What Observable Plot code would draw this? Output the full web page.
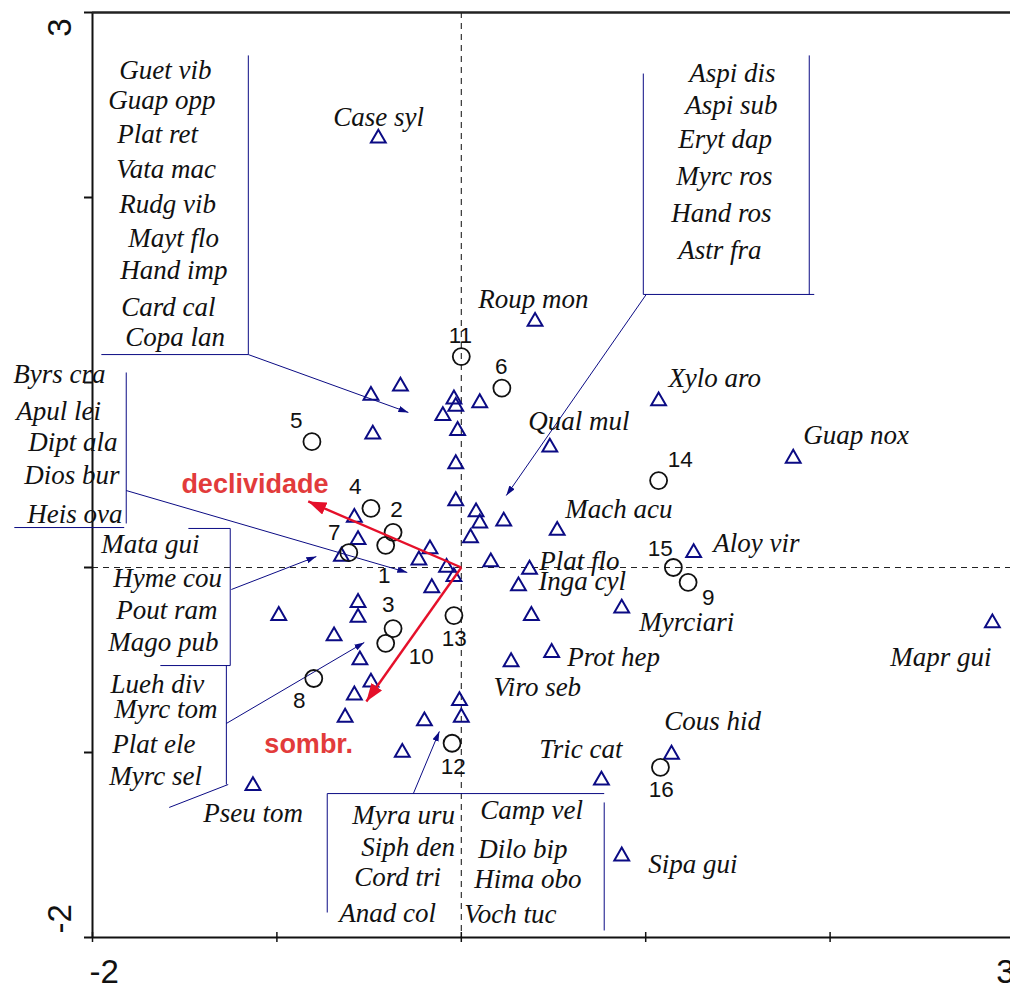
<!DOCTYPE html>
<html>
<head>
<meta charset="utf-8">
<script src="https://cdn.jsdelivr.net/npm/d3@7"></script>
<script src="https://cdn.jsdelivr.net/npm/@observablehq/plot@0.6"></script>
<style>
  html, body { margin: 0; padding: 0; background: #fff; }
  #chart svg { display: block; }
</style>
</head>
<body>
<div id="chart"></div>
<script>
// ---- Species scores (triangles) ----
const speciesX = [-0.45,0.40,-0.33,-0.49,-0.48,-0.04,-0.03,-0.10,0.10,-0.02,-0.03,-0.03,0.08,0.10,0.23,0.48,0.52,1.07,1.80,1.26,0.05,0.16,0.37,0.31,0.38,0.87,0.49,0.27,2.88,1.14,0.76,0.87,-1.13,-0.01,0.00,-0.20,-0.32,-0.58,-0.49,-0.55,-0.63,-0.58,-0.56,-0.65,-0.17,-0.23,-0.08,-0.04,-0.16,-0.56,-0.56,-0.99,-0.69];
const speciesY = [2.32,1.33,0.98,0.93,0.72,0.91,0.87,0.82,0.89,0.74,0.56,0.36,0.30,0.24,0.25,0.65,0.20,0.90,0.59,0.08,0.16,0.03,-0.01,-0.10,-0.26,-0.22,-0.46,-0.51,-0.30,-1.01,-1.15,-1.56,-1.18,-0.72,-0.81,-0.83,-1.00,-0.69,-0.62,-0.50,-0.81,0.27,0.15,0.06,0.10,0.04,0.00,-0.05,-0.11,-0.19,-0.27,-0.26,-0.37];

// ---- Site scores (circles) ----
const siteIds = ["1","2","3","4","5","6","7","8","9","10","11","12","13","14","15","16"];
const siteX = [-0.41,-0.37,-0.37,-0.49,-0.81,0.22,-0.61,-0.80,1.23,-0.41,0.00,-0.05,-0.04,1.07,1.15,1.08];
const siteY = [0.12,0.19,-0.33,0.32,0.68,0.97,0.08,-0.60,-0.08,-0.41,1.14,-0.95,-0.26,0.47,0.00,-1.08];
const siteLabelX = [-0.418,-0.352,-0.396,-0.575,-0.895,0.217,-0.689,-0.879,1.339,-0.217,-0.005,-0.043,-0.038,1.188,1.079,1.085];
const siteLabelY = [-0.043,0.314,-0.200,0.438,0.795,1.086,0.189,-0.719,-0.162,-0.481,1.254,-1.076,-0.384,0.584,0.103,-1.200];

// ---- Species name labels ----
const speciesNames = ["Guet vib","Guap opp","Plat ret","Vata mac","Rudg vib","Mayt flo","Hand imp","Card cal","Copa lan",
  "Aspi dis","Aspi sub","Eryt dap","Myrc ros","Hand ros","Astr fra",
  "Byrs cra","Apul lei","Dipt ala","Dios bur","Heis ova",
  "Mata gui","Hyme cou","Pout ram","Mago pub",
  "Lueh div","Myrc tom","Plat ele","Myrc sel","Pseu tom",
  "Myra uru","Siph den","Cord tri","Anad col","Camp vel","Dilo bip","Hima obo","Voch tuc",
  "Case syl","Roup mon","Qual mul","Mach acu","Plat flo","Inga cyl","Myrciari","Prot hep","Viro seb","Tric cat",
  "Xylo aro","Guap nox","Aloy vir","Mapr gui","Cous hid","Sipa gui"];
const nameX = [-1.855,-1.914,-1.866,-1.871,-1.855,-1.806,-1.849,-1.844,-1.822,
  1.236,1.215,1.177,1.166,1.139,1.177,
  -2.430,-2.413,-2.348,-2.370,-2.354,
  -1.952,-1.887,-1.871,-1.914,
  -1.903,-1.882,-1.893,-1.909,-1.399,
  -0.591,-0.542,-0.580,-0.662,0.103,0.092,0.070,0.016,
  -0.694,0.092,0.363,0.564,0.423,0.418,0.965,0.575,0.174,0.423,
  1.123,1.855,1.367,2.326,1.101,1.014];
const nameY = [2.638,2.476,2.297,2.103,1.914,1.730,1.562,1.362,1.195,
  2.627,2.449,2.265,2.065,1.865,1.665,
  0.995,0.800,0.632,0.454,0.238,
  0.081,-0.108,-0.281,-0.454,
  -0.681,-0.816,-1.000,-1.178,-1.378,
  -1.384,-1.557,-1.724,-1.914,-1.357,-1.568,-1.730,-1.924,
  2.389,1.405,0.741,0.270,-0.016,-0.124,-0.341,-0.535,-0.692,-1.032,
  0.973,0.670,0.086,-0.530,-0.881,-1.654];

// ---- Leader lines (list brackets) ----
const bracketX1 = [-1.155,-1.952,0.987,1.887,0.987,-1.817,-2.424,-1.480,-1.253,-1.632,-1.274,-1.264,-0.727,-0.727,0.775];
const bracketY1 = [2.768,1.151,2.670,2.768,1.476,1.054,0.216,0.211,0.211,-0.530,-0.530,-1.173,-1.222,-1.222,-1.270];
const bracketX2 = [-1.155,-1.155,0.987,1.887,1.914,-1.817,-1.828,-1.253,-1.253,-1.253,-1.274,-1.584,0.775,-0.727,0.775];
const bracketY2 = [1.151,1.151,1.476,1.476,1.476,0.238,0.216,0.211,-0.530,-0.530,-1.173,-1.297,-1.222,-1.865,-1.962];

// ---- Leader arrows ----
const pointerX1 = [-1.155,1.003,-1.817,-1.247,-1.274,-0.260];
const pointerY1 = [1.151,1.476,0.416,-0.119,-0.843,-1.222];
const pointerX2 = [-0.287,0.244,-0.293,-0.786,-0.526,-0.119];
const pointerY2 = [0.838,0.389,-0.027,0.059,-0.405,-0.886];

// ---- Environmental vectors ----
const envNames = ["declividade","sombr."];
const envX = [-0.830,-0.515];
const envY = [0.357,-0.724];
const envLabelX = [-1.518,-1.068];
const envLabelY = [0.405,-1.000];

// ---- Axis ticks ----
const xTicks = [-2,-1,0,1,2,3];
const yTicks = [-2,-1,0,1,2,3];
const endTickLabels = ["-2","3"];

const species = speciesX.map((x,i)=>({x, y: speciesY[i]}));
const sites = siteIds.map((id,i)=>({id, x: siteX[i], y: siteY[i], lx: siteLabelX[i], ly: siteLabelY[i]}));
const names = speciesNames.map((n,i)=>({n, x: nameX[i], y: nameY[i]}));
const brackets = bracketX1.map((x1,i)=>({x1, y1: bracketY1[i], x2: bracketX2[i], y2: bracketY2[i]}));
const pointers = pointerX1.map((x1,i)=>({x1, y1: pointerY1[i], x2: pointerX2[i], y2: pointerY2[i]}));
const env = envNames.map((n,i)=>({n, x: envX[i], y: envY[i], lx: envLabelX[i], ly: envLabelY[i]}));

const NAVY = "#0b0b84";
const RED = "#e5102a";
const SVGNS = "http://www.w3.org/2000/svg";
function headMarker(len, half) {
  return (color) => {
    const m = document.createElementNS(SVGNS, "marker");
    m.setAttribute("viewBox", `${-len} ${-half} ${len} ${2*half}`);
    m.setAttribute("markerWidth", len);
    m.setAttribute("markerHeight", 2*half);
    m.setAttribute("markerUnits", "userSpaceOnUse");
    m.setAttribute("orient", "auto");
    m.setAttribute("refX", 0);
    m.setAttribute("refY", 0);
    const p = document.createElementNS(SVGNS, "path");
    p.setAttribute("d", `M${-len},${-half}L0,0L${-len},${half}Z`);
    p.setAttribute("fill", color);
    p.setAttribute("stroke", "none");
    m.appendChild(p);
    return m;
  };
}

function build(blueHead, redHead) {
  return Plot.plot({
    width: 1010,
    height: 985,
    marginLeft: 92,
    marginRight: -4,
    marginTop: 12,
    marginBottom: 48,
    x: {domain: [-2, 3], axis: null},
    y: {domain: [-2, 3], axis: null},
    style: {background: "white", overflow: "visible"},
    marks: [
      Plot.ruleX([0], {stroke: "#222", strokeWidth: 1.1, strokeDasharray: "6,5"}),
      Plot.ruleY([0], {stroke: "#222", strokeWidth: 1.1, strokeDasharray: "6,5"}),
      Plot.ruleX([-2], {stroke: "#111", strokeWidth: 2}),
      Plot.ruleY([3], {stroke: "#222", strokeWidth: 2.5}),
      Plot.ruleY([-2], {stroke: "#111", strokeWidth: 2}),
      Plot.axisY({ticks: yTicks, anchor: "left", tickSize: 8, tickFormat: () => "", label: null, stroke: "#111", strokeWidth: 2}),
      Plot.axisX({ticks: xTicks, anchor: "bottom", tickSize: 10, dy: -5, tickFormat: () => "", label: null, stroke: "#111", strokeWidth: 1.5}),
      Plot.link(brackets, {x1: "x1", y1: "y1", x2: "x2", y2: "y2", stroke: NAVY, strokeWidth: 1}),
      Plot.link(pointers, {x1: "x1", y1: "y1", x2: "x2", y2: "y2", stroke: NAVY, strokeWidth: 1, markerEnd: blueHead}),
      Plot.dot(species, {x: "x", y: "y", symbol: "triangle", r: 5.5, stroke: NAVY, strokeWidth: 2, fill: "none"}),
      Plot.dot(sites, {x: "x", y: "y", r: 8.5, stroke: "#111", strokeWidth: 1.8, fill: "none"}),
      Plot.link(env, {x1: 0, y1: 0, x2: "x", y2: "y", stroke: RED, strokeWidth: 2.4, markerEnd: redHead}),
      Plot.text(names, {x: "x", y: "y", text: "n", textAnchor: "start", lineAnchor: "bottom", fontFamily: "'Liberation Serif', 'Times New Roman', serif", fontStyle: "italic", fontSize: 27, fill: "#111"}),
      Plot.text(sites, {x: "lx", y: "ly", text: "id", textAnchor: "middle", lineAnchor: "middle", fontFamily: "'Liberation Sans', Arial, sans-serif", fontSize: 22.5, fill: "#111"}),
      Plot.text(env, {x: "lx", y: "ly", text: "n", textAnchor: "start", lineAnchor: "bottom", fontFamily: "'Liberation Sans', Arial, sans-serif", fontWeight: "bold", fontSize: 27, fill: "#e23b3b"}),
      // bottom end tick labels
      Plot.text([endTickLabels[0]], {x: -2, y: -2, text: d => d, textAnchor: "start", lineAnchor: "bottom", dx: -3, dy: 45, fontFamily: "'Liberation Sans', Arial, sans-serif", fontSize: 33, fill: "#111"}),
      Plot.text([endTickLabels[1]], {x: 3, y: -2, text: d => d, textAnchor: "end", lineAnchor: "bottom", dx: 0, dy: 45, fontFamily: "'Liberation Sans', Arial, sans-serif", fontSize: 33, fill: "#111"}),
      // left end tick labels (rotated)
      Plot.text([endTickLabels[0]], {x: -2, y: -2, text: d => d, rotate: -90, textAnchor: "start", lineAnchor: "middle", dx: -32, dy: -4, fontFamily: "'Liberation Sans', Arial, sans-serif", fontSize: 33, fill: "#111"}),
      Plot.text([endTickLabels[1]], {x: -2, y: 3, text: d => d, rotate: -90, textAnchor: "end", lineAnchor: "middle", dx: -32, dy: 6, fontFamily: "'Liberation Sans', Arial, sans-serif", fontSize: 33, fill: "#111"})
    ]
  });
}

let chart;
try {
  chart = build(headMarker(10, 3.2), headMarker(18, 6.5));
} catch (e) {
  chart = build("arrow", "arrow");
}
document.getElementById("chart").appendChild(chart);
</script>
</body>
</html>
